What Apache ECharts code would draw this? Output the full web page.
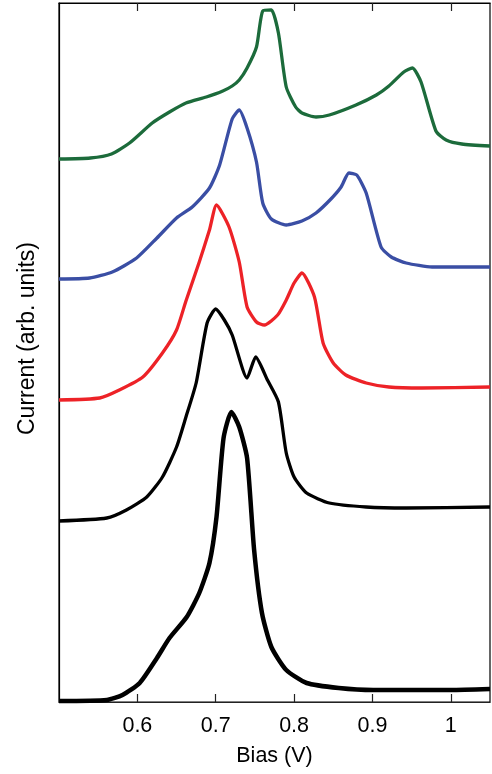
<!DOCTYPE html>
<html>
<head>
<meta charset="utf-8">
<script src="https://cdn.jsdelivr.net/npm/echarts@6/dist/echarts.min.js"></script>
<style>html,body{margin:0;padding:0;background:#fff;}#c{width:492px;height:774px;}</style>
</head>
<body>
<div id="c"></div>
<script>
// Bias (V) tick labels
var xTicks = [0.6, 0.7, 0.8, 0.9, 1];
// vertical offsets of each trace (arb. units)
var offsets = { green: 543, blue: 423, red: 302, black2: 181, black1: 1 };

var greenCurve = [[0.50,0],[0.54,1],[0.567,5],[0.59,16],[0.619,36],[0.641,47],[0.662,56],[0.688,62],[0.709,68],[0.721,73],[0.730,79],[0.740,91],[0.752,112],[0.760,148],[0.771,149],[0.780,126],[0.790,72],[0.802,52],[0.810,46],[0.828,42],[0.845,44],[0.879,54],[0.905,64],[0.921,73],[0.940,87],[0.951,91],[0.962,77],[0.981,28],[0.994,19],[1.014,15],[1.05,13]];

var blueCurve = [[0.50,0],[0.539,1],[0.568,7],[0.599,21],[0.625,41],[0.650,61],[0.670,72],[0.692,91],[0.705,114],[0.721,160],[0.730,169],[0.740,151],[0.752,117],[0.760,76],[0.771,60],[0.790,54],[0.810,58],[0.828,66],[0.847,80],[0.860,92],[0.870,106],[0.880,104],[0.892,86],[0.911,32],[0.924,22],[0.943,16],[0.976,12],[1.05,12]];

var redCurve = [[0.50,0],[0.552,2],[0.577,10],[0.607,23],[0.632,47],[0.650,70],[0.662,99],[0.679,138],[0.692,170],[0.701,195],[0.717,173],[0.730,138],[0.740,93],[0.752,78],[0.762,75],[0.779,85],[0.790,100],[0.800,117],[0.810,127],[0.826,103],[0.837,57],[0.850,37],[0.866,25],[0.892,17],[0.921,13],[0.963,12],[1.05,13]];

var black2Curve = [[0.50,0],[0.561,3],[0.586,11],[0.612,24],[0.632,44],[0.650,74],[0.662,104],[0.675,138],[0.689,198],[0.700,212],[0.711,201],[0.721,186],[0.740,143],[0.751,164],[0.766,141],[0.780,119],[0.790,68],[0.800,44],[0.816,28],[0.845,18],[0.892,14],[0.943,13],[1.05,14]];

var black1Curve = [[0.50,0],[0.561,1],[0.581,6],[0.603,18],[0.625,43],[0.641,63],[0.663,84],[0.679,108],[0.692,138],[0.701,184],[0.710,263],[0.720,289],[0.730,274],[0.740,243],[0.749,151],[0.759,88],[0.771,54],[0.790,31],[0.816,18],[0.857,13],[0.901,11],[1.0,11],[1.05,12]];

function shift(curve, off) { return curve.map(function (p) { return [p[0], p[1] + off]; }); }

var traces = [
  { data: greenCurve, off: offsets.green, color: '#1c6b3b', width: 3.3 },
  { data: blueCurve, off: offsets.blue, color: '#3a4ea4', width: 3.3 },
  { data: redCurve, off: offsets.red, color: '#ed2227', width: 3.3 },
  { data: black2Curve, off: offsets.black2, color: '#000000', width: 3.3 },
  { data: black1Curve, off: offsets.black1, color: '#000000', width: 4.5 }
];

var font = 'Liberation Sans, Arial, Helvetica, sans-serif';
var chart = echarts.init(document.getElementById('c'), null, { renderer: 'canvas' });
var axisCommon = {
  type: 'value', min: 0.5, max: 1.05, interval: 0.1,
  splitLine: { show: false }
};
chart.setOption({
  animation: false,
  grid: { left: 59, right: 2, top: 3, bottom: 72, show: true, borderColor: '#000', borderWidth: 1.2 },
  xAxis: [
    Object.assign({}, axisCommon, {
      position: 'bottom',
      name: 'Bias (V)', nameLocation: 'middle', nameGap: 43,
      nameTextStyle: { fontFamily: font, fontSize: 21.5, color: '#000' },
      axisLine: { lineStyle: { color: '#222', width: 1.2 } },
      axisTick: { inside: true, length: 8, lineStyle: { color: '#222', width: 1.2 },
        customValues: xTicks },
      axisLabel: { margin: 13, fontFamily: font, fontSize: 21.5, color: '#000',
        customValues: xTicks,
        formatter: function (v) { return String(Math.round(v * 10) / 10); } }
    }),
    Object.assign({}, axisCommon, {
      position: 'top',
      axisLine: { lineStyle: { color: '#000', width: 1.2 } },
      axisTick: { inside: true, length: 8, lineStyle: { color: '#222', width: 1.2 }, customValues: xTicks },
      axisLabel: { show: false }
    })
  ],
  yAxis: {
    type: 'value', min: 0, max: 699,
    name: 'Current (arb. units)', nameLocation: 'middle', nameGap: 20,
    nameTextStyle: { fontFamily: font, fontSize: 23, color: '#000', padding: [0, 0, 0, 28] },
    axisLine: { show: true, lineStyle: { color: '#000', width: 1.2 } },
    axisTick: { show: false }, axisLabel: { show: false }, splitLine: { show: false }
  },
  series: traces.map(function (t) {
    return {
      type: 'line', data: shift(t.data, t.off), showSymbol: false, smooth: 0.2,
      xAxisIndex: 0,
      lineStyle: { color: t.color, width: t.width, join: 'round' }
    };
  })
});
</script>
</body>
</html>
